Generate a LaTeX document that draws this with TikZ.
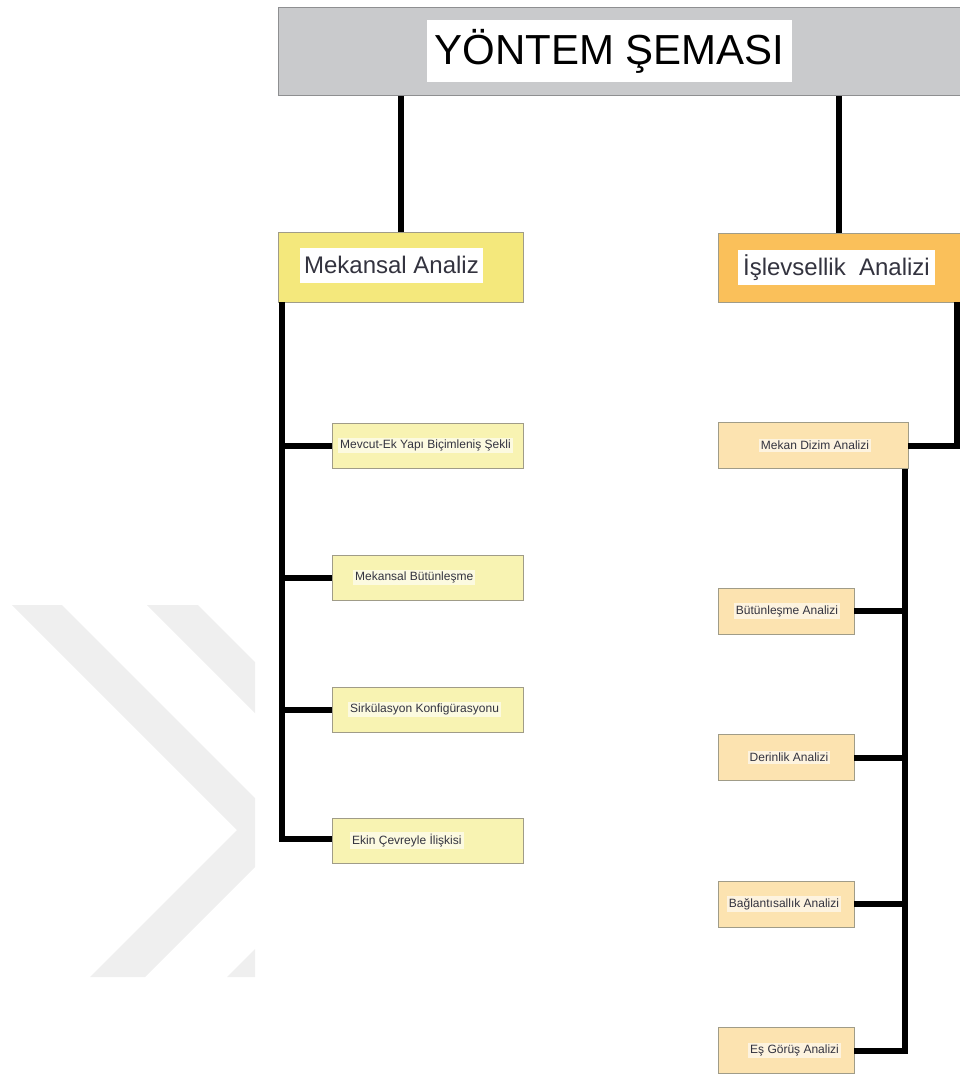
\documentclass[tikz,border=0pt]{standalone}
\usepackage{fontspec}
\setmainfont{Liberation Sans}
\definecolor{titlegray}{HTML}{C9CACC}
\definecolor{titleedge}{HTML}{8E8F91}
\definecolor{mainyellow}{HTML}{F4E87C}
\definecolor{mainorange}{HTML}{FAC05A}
\definecolor{lightyellow}{HTML}{F8F3B2}
\definecolor{lightpeach}{HTML}{FCE3B0}
\definecolor{boxedge}{HTML}{A09C88}
\definecolor{txt}{HTML}{33333F}
\definecolor{wmgray}{HTML}{EFEFEF}
\begin{document}
\begin{tikzpicture}[x=1pt,y=-1pt,
  titlebox/.style={draw=titleedge,line width=1pt,fill=titlegray,minimum width=686,minimum height=88,inner sep=0},
  titlelabel/.style={fill=white,minimum width=365,minimum height=62,inner sep=0,font=\fontsize{42}{50}\selectfont,text=black},
  mainbox/.style={draw=boxedge,line width=0.8pt,minimum height=70,inner sep=0},
  mainlabel/.style={fill=white,inner sep=0,minimum height=35,font=\fontsize{24}{28}\selectfont,text=txt},
  leftbox/.style={draw=boxedge,line width=0.8pt,fill=lightyellow,minimum width=191,minimum height=45,inner sep=0},
  rightbox/.style={draw=boxedge,line width=0.8pt,fill=lightpeach,minimum width=136,minimum height=46,inner sep=0},
  smalllabel/.style={fill=white,fill opacity=0.6,text opacity=1,inner sep=2,font=\fontsize{12}{14}\selectfont,text=txt},
  conn/.style={line width=6pt,black}
]
\useasboundingbox (0,0) rectangle (960,1075);
% watermark
\begin{scope}
\clip (0,590) rectangle (255,990);
\fill[wmgray] (12,605) -- (62,605) -- (289.5,832.5) -- (145,977) -- (90,977) -- (237,830) -- cycle;
\fill[wmgray] (147,605) -- (198,605) -- (423.5,830.5) -- (277,977) -- (227,977) -- (373,831) -- cycle;
\end{scope}
% title
\node[titlebox] (title) at (621,52) {};
\node[titlelabel] (titletext) at (609.5,51) {YÖNTEM ŞEMASI};
% main boxes
\node[mainbox,fill=mainyellow,minimum width=245] (mek) at (400.5,267) {};
\node[mainlabel,minimum width=183] (mektext) at (391.5,265) {Mekansal Analiz};
\node[mainbox,fill=mainorange,minimum width=242,minimum height=69] (isl) at (839,267.5) {};
\node[mainlabel,minimum width=197] (isltext) at (836.5,267.5) {İşlevsellik\ \ Analizi};
% left boxes
\node[leftbox] (mev) at (427.5,445.5) {};
\node[smalllabel,anchor=west] (mevtext) at (338,445.5) {Mevcut-Ek Yapı Biçimleniş Şekli};
\node[leftbox] (mbut) at (427.5,577.5) {};
\node[smalllabel,anchor=west] (mbuttext) at (353,577.5) {Mekansal Bütünleşme};
\node[leftbox] (sirk) at (427.5,709.5) {};
\node[smalllabel,anchor=west] (sirktext) at (348,709.5) {Sirkülasyon Konfigürasyonu};
\node[leftbox] (ekin) at (427.5,840.5) {};
\node[smalllabel,anchor=west] (ekintext) at (350,840.5) {Ekin Çevreyle İlişkisi};
% right boxes
\node[rightbox,minimum width=190] (dizim) at (813,445.5) {};
\node[smalllabel] (dizimtext) at (815,445.5) {Mekan Dizim Analizi};
\node[rightbox] (but) at (786,611) {};
\node[smalllabel] (buttext) at (787,611) {Bütünleşme Analizi};
\node[rightbox] (der) at (786,757.5) {};
\node[smalllabel] (dertext) at (789,757.5) {Derinlik Analizi};
\node[rightbox] (bag) at (786,904) {};
\node[smalllabel] (bagtext) at (784,904) {Bağlantısallık Analizi};
\node[rightbox] (es) at (786,1050.5) {};
\node[smalllabel,anchor=west] (estext) at (748,1050.5) {Eş Görüş Analizi};
% connectors
\draw[conn] (title.south -| mek.north) -- (mek.north);
\draw[conn] (title.south -| isl.north) -- (isl.north);
\coordinate (lspine) at ([xshift=4]mek.south west);
\draw[conn] (lspine) |- ([yshift=1.5]ekin.west);
\draw[conn] (lspine |- mev.west) -- (mev.west);
\draw[conn] (lspine |- mbut.west) -- (mbut.west);
\draw[conn] (lspine |- sirk.west) -- (sirk.west);
\draw[conn] ([xshift=-3]isl.south east) |- (dizim.east);
\coordinate (rspine) at ([xshift=-3]dizim.south east);
\draw[conn] (rspine) |- (es.east);
\draw[conn] (rspine |- but.east) -- (but.east);
\draw[conn] (rspine |- der.east) -- (der.east);
\draw[conn] (rspine |- bag.east) -- (bag.east);
\end{tikzpicture}
\end{document}
